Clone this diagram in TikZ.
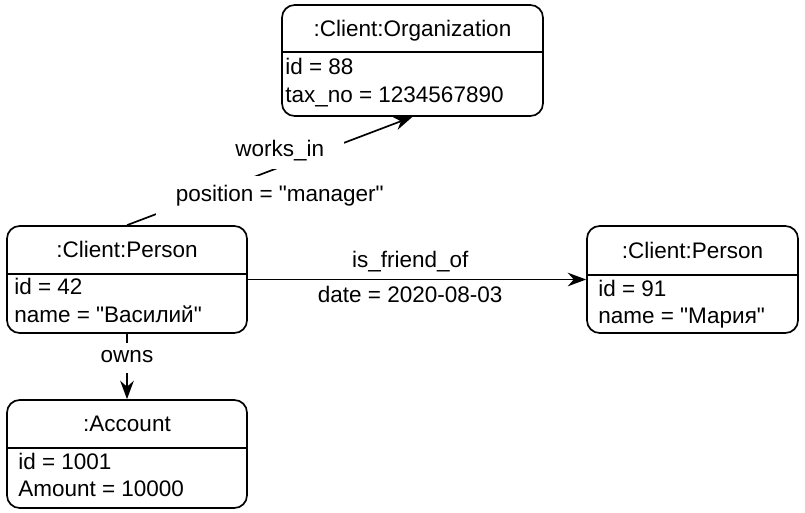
\documentclass[tikz,border=0pt]{standalone}
\usepackage{fontspec}
\setmainfont{Liberation Sans}[Ligatures=TeXOff]
\usetikzlibrary{arrows.meta, positioning, fit}
\tikzset{
	objbox/.style={
			draw=black,
			line width=1.2pt,
			rounded corners=9pt,
			inner sep=0pt
		},
	objtitle/.style={
			inner sep=0pt,
			text height=1.5ex,
			text depth=.3ex
		},
	objattr/.style={
			objtitle,
			anchor=west
		},
	rel/.style={
			line width=1.2pt,
			-{Stealth[length=4.6mm, width=3.4mm, inset=1.5mm]}
		},
	rellabel/.style={
			objtitle,
			fill=white,
			inner xsep=5mm
		}
}

\begin{document}
\begin{tikzpicture}[x=0.025cm, y=-0.025cm, font=\fontsize{16}{19}\selectfont]
\useasboundingbox (0,0) rectangle (805,513);

% object boxes
\node[objbox, fit={(282,5) (543,116)}] (org) {};
\node[objbox, fit={(7,226) (247,333)}] (vasily) {};
\node[objbox, fit={(587,226) (798,333)}] (maria) {};
\node[objbox, fit={(7,400) (247,508)}] (acct) {};

\foreach \b/\y in {org/52, vasily/274, maria/275, acct/448}
	\draw[line width=1.2pt] (\b.west |- 0,\y) -- (\b.east |- 0,\y);

% titles and attributes
\node[objtitle] (orgtitle) at (412.5,32) {:Client:Organization};
\node[objattr] (orgid) at (285,70) {id = 88};
\node[objattr] (orgtax) at (285,98) {tax\_no = 1234567890};

\node[objtitle] (vasilytitle) at (127,253) {:Client:Person};
\node[objattr] (vasilyid) at (14,290) {id = 42};
\node[objattr] (vasilyname) at (14,318) {name = "Василий"};

\node[objtitle] (mariatitle) at (692.5,254) {:Client:Person};
\node[objattr] (mariaid) at (598,292) {id = 91};
\node[objattr] (marianame) at (598,319) {name = "Мария"};

\node[objtitle] (accttitle) at (127,427) {:Account};
\node[objattr] (acctid) at (18,465) {id = 1001};
\node[objattr] (acctamount) at (18,492) {Amount = 10000};

% links
\draw[rel] (vasily.north) -- (org.south)
	node[rellabel, pos=0.535, yshift=0.375cm, minimum height=0.85cm] (worksin) {works\_in}
	node[rellabel, pos=0.535, yshift=-0.75cm, minimum height=1.05cm] (position) {position = "manager"};
\draw[rel] (vasily.east) -- (maria.west)
	node[objtitle, pos=0.48, yshift=0.41cm] (friend) {is\_friend\_of}
	node[objtitle, pos=0.48, yshift=-0.46cm] (date) {date = 2020-08-03};
\draw[rel] (vasily.south) -- (acct.north)
	node[rellabel, pos=0.37, inner xsep=2mm, minimum height=0.75cm] (owns) {owns};
\end{tikzpicture}
\end{document}
